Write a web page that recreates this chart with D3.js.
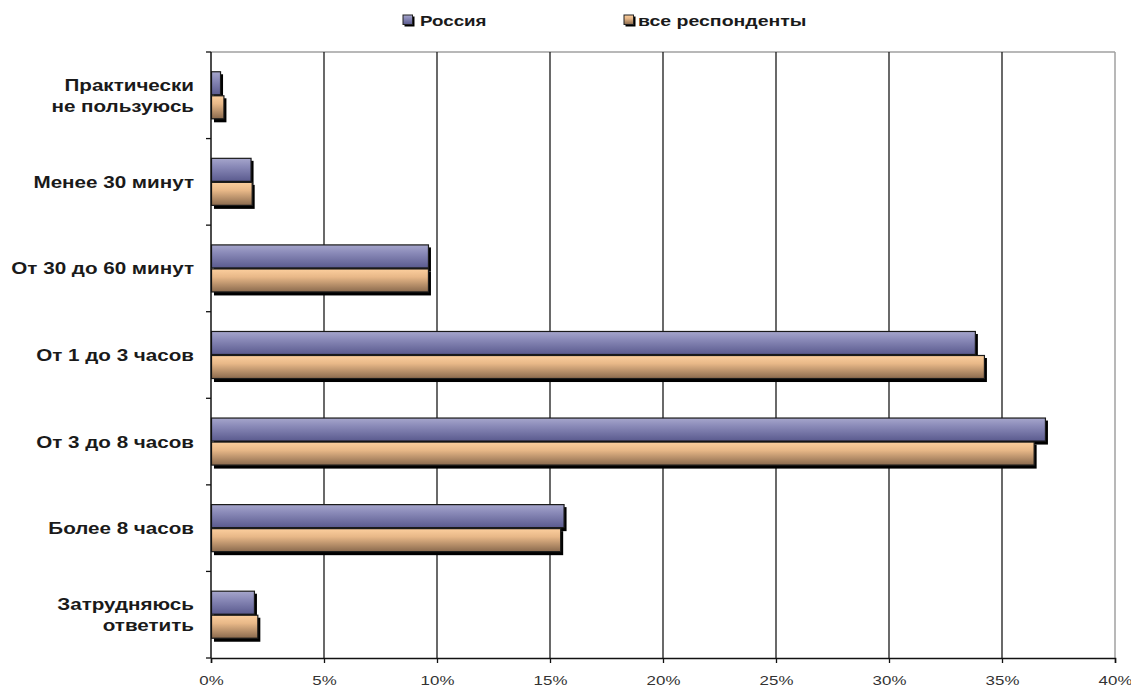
<!DOCTYPE html>
<html><head><meta charset="utf-8">
<script src="https://cdn.jsdelivr.net/npm/d3@7"></script>
<style>body{margin:0;background:#fff}svg{display:block}text{font-family:"Liberation Sans",Arial,sans-serif}</style>
</head><body>
<script>
const categories = [["Практически","не пользуюсь"],["Менее 30 минут"],["От 30 до 60 минут"],["От 1 до 3 часов"],["От 3 до 8 часов"],["Более 8 часов"],["Затрудняюсь","ответить"]];
const seriesNames = ["Россия","все респонденты"];
const russia = [0.4, 1.75, 9.6, 33.8, 36.9, 15.6, 1.9];
const allResp = [0.55, 1.8, 9.6, 34.2, 36.4, 15.45, 2.05];
const xTicks = [0,5,10,15,20,25,30,35,40];

const W=1131,H=689;
const svg=d3.select("body").append("svg").attr("width",W).attr("height",H);
const defs=svg.append("defs");
const grads=[["gBlue","#a6a6cc","#8a8ab8","#5a5a8e"],["gOrange","#fccf9e","#e8b888","#8a6a4e"]];
grads.forEach(g=>{const lg=defs.append("linearGradient").attr("id",g[0]).attr("x1",0).attr("y1",0).attr("x2",0).attr("y2",1);
 lg.append("stop").attr("offset","0%").attr("stop-color",g[1]);
 lg.append("stop").attr("offset","35%").attr("stop-color",g[2]);
 lg.append("stop").attr("offset","100%").attr("stop-color",g[3]);});
const fills=["url(#gBlue)","url(#gOrange)"];

const x0=211,x1=1115,y0=52,y1=658;
const x=d3.scaleLinear().domain([0,40]).range([x0,x1]);
const idx=categories.map((d,i)=>i);
const y=d3.scaleBand().domain(idx).range([y0,y1]).paddingInner(0.445).paddingOuter(0.2225);
const ys=d3.scaleBand().domain([0,1]).range([0,y.bandwidth()]);
const SX=1.25;

svg.append("line").attr("x1",x0).attr("x2",x1).attr("y1",y0).attr("y2",y0).attr("stroke","#a0a0a0").attr("stroke-width",1.5);
svg.append("g").selectAll("line").data(xTicks.filter(t=>t>0)).join("line")
 .attr("x1",d=>x(d)).attr("x2",d=>x(d)).attr("y1",y0).attr("y2",y1)
 .attr("stroke",d=>d===40?"#a0a0a0":"#1a1a1a").attr("stroke-width",d=>d===40?1.5:1.3);

const data=[russia,allResp];
const gb=svg.append("g");
idx.forEach(i=>{
 data.forEach((s,k)=>{
  const by=y(i)+ys(k), bh=ys.bandwidth(), bw=x(s[i])-x(0);
  gb.append("rect").attr("x",x(0)+3).attr("y",by+3).attr("width",bw).attr("height",bh).attr("fill","#000");
 });
 data.forEach((s,k)=>{
  const by=y(i)+ys(k), bh=ys.bandwidth(), bw=x(s[i])-x(0);
  gb.append("rect").attr("x",x(0)+0.5).attr("y",by+0.5).attr("width",bw).attr("height",bh-1).attr("fill",fills[k]).attr("stroke","#1a1a1a").attr("stroke-width",1.2);
 });
});

const xa=svg.append("g").attr("transform",`translate(0,${y1})`).call(d3.axisBottom(x).tickValues(xTicks).tickSize(5).tickFormat(d=>d+"%"));
xa.select(".domain").attr("stroke","#111").attr("stroke-width",1.5);
xa.selectAll(".tick line").attr("stroke","#111").attr("stroke-width",1.3);
xa.selectAll(".tick text").attr("font-size",13.5).attr("fill","#333").attr("y",0).attr("dy",0)
 .attr("transform",`translate(0,27) scale(${SX},1)`).attr("text-anchor","middle");

const yBounds=d3.range(categories.length+1).map(i=>y0+i*y.step());
svg.append("line").attr("x1",x0).attr("x2",x0).attr("y1",y0).attr("y2",y1).attr("stroke","#111").attr("stroke-width",1.5);
svg.append("g").selectAll("line").data(yBounds).join("line").attr("x1",x0-5).attr("x2",x0).attr("y1",d=>d).attr("y2",d=>d).attr("stroke","#111").attr("stroke-width",1.3);

const gl=svg.append("g");
categories.forEach((lines,i)=>{
 const cy=y(i)+y.bandwidth()/2;
 const lh=21;
 const start=cy-(lines.length-1)*lh/2;
 lines.forEach((t,j)=>{
  gl.append("text").attr("transform",`translate(194,${start+j*lh}) scale(${SX},1)`).attr("text-anchor","end").attr("dy","0.36em")
   .attr("font-size",16.5).attr("font-weight","bold").attr("fill","#1a1a1a").text(t);
 });
});

const legX=[403,624];
seriesNames.forEach((n,k)=>{
 const g=svg.append("g").attr("transform",`translate(${legX[k]},15)`);
 g.append("rect").attr("x",1.5).attr("y",1.5).attr("width",10).attr("height",10).attr("fill","#000");
 g.append("rect").attr("x",0).attr("y",0).attr("width",9.5).attr("height",9.5).attr("fill",fills[k]).attr("stroke","#222").attr("stroke-width",1);
 g.append("text").attr("transform",`translate(${k===0?17:14},6) scale(${k===0?SX:1.3},1)`).attr("dy","0.36em").attr("font-size",15).attr("font-weight","bold").attr("fill","#1a1a1a").text(n);
});
</script>
</body></html>
